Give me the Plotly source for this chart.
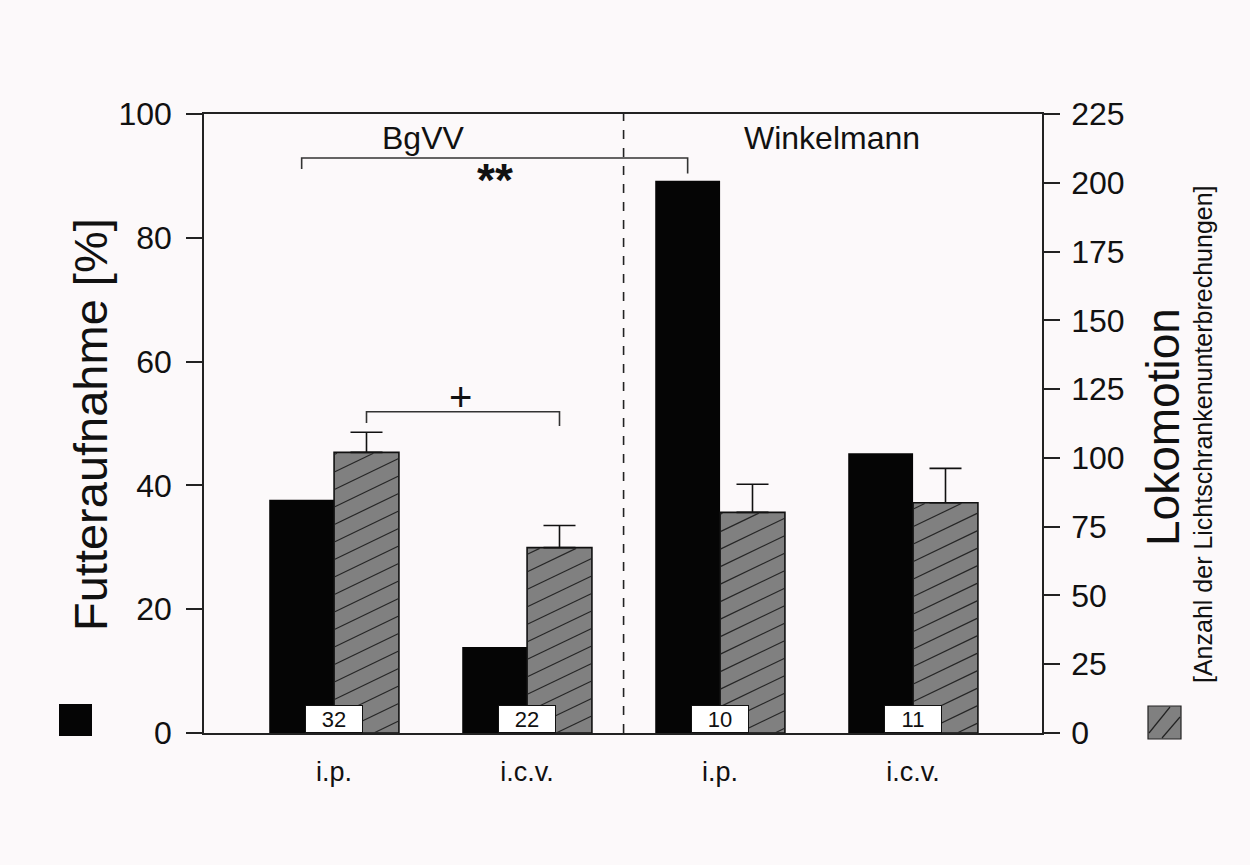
import math
import plotly.graph_objects as go

# ---- data -------------------------------------------------------------
groups = ["BgVV", "Winkelmann"]
routes = ["i.p.", "i.c.v.", "i.p.", "i.c.v."]
n_animals = ["32", "22", "10", "11"]
futteraufnahme = [37.7, 13.9, 89.2, 45.2]          # % (left axis, black bars)
lokomotion = [102.0, 67.4, 80.2, 83.7]             # counts (right axis, hatched bars)
lokomotion_err = [7.3, 8.0, 10.2, 12.5]

# ---- layout constants ---------------------------------------------------
W, H = 1250, 865
M_L, M_R, M_T, M_B = 204, 208, 114, 132
PLOT_W, PLOT_H = W - M_L - M_R, H - M_T - M_B
XR = [-0.674, 3.668]
YR = [0, 100]
Y2R = [0, 225]
BAR_W = 0.336
BG = "#fcf9fa"
FONT = "Liberation Sans, Arial, Helvetica, sans-serif"
GRAY = "#808080"

xpos = list(range(len(routes)))

PX_PER_X = PLOT_W / (XR[1] - XR[0])
PX_PER_Y2 = PLOT_H / (Y2R[1] - Y2R[0])


def hatch_segments(x0, x1, top, slope=0.48, gap=17.5, phase=6.0):
    """Diagonal hatch lines clipped to a bar rectangle (x in x-units, top in y2-units)."""
    X0 = (x0 - XR[0]) * PX_PER_X + 0.8
    X1 = (x1 - XR[0]) * PX_PER_X - 0.8
    T = top * PX_PER_Y2 - 0.8
    xs, ys = [], []
    cmin, cmax = 0 - slope * X1, T - slope * X0
    for k in range(math.ceil((cmin - phase) / gap), math.floor((cmax - phase) / gap) + 1):
        c = k * gap + phase
        xa = max(X0, (0.5 - c) / slope)
        xb = min(X1, (T - c) / slope)
        if xb - xa < 1.5:
            continue
        xs += [XR[0] + xa / PX_PER_X, XR[0] + xb / PX_PER_X, None]
        ys += [(c + slope * xa) / PX_PER_Y2, (c + slope * xb) / PX_PER_Y2, None]
    return xs, ys


fig = go.Figure()

# black bars: food intake
fig.add_trace(go.Bar(
    x=xpos, y=futteraufnahme, width=BAR_W, offset=-BAR_W,
    marker=dict(color="#050505", line=dict(width=0)),
    yaxis="y", showlegend=False, hoverinfo="skip",
))

# gray hatched bars: locomotion, with upward error whiskers
fig.add_trace(go.Bar(
    x=xpos, y=lokomotion, width=BAR_W, offset=0,
    marker=dict(color=GRAY, line=dict(width=1.6, color="#111")),
    error_y=dict(type="data", symmetric=False, array=lokomotion_err,
                 arrayminus=[0] * len(lokomotion), color="#111",
                 thickness=1.6, width=16),
    yaxis="y2", showlegend=False, hoverinfo="skip",
))

# hatching of the locomotion bars
hx, hy = [], []
for xi, v in zip(xpos, lokomotion):
    sx, sy = hatch_segments(xi, xi + BAR_W, v)
    hx += sx
    hy += sy
fig.add_trace(go.Scatter(
    x=hx, y=hy, mode="lines", yaxis="y2",
    line=dict(color="#262626", width=1.2),
    showlegend=False, hoverinfo="skip",
))

shapes = []
# separator between the two product groups
shapes.append(dict(type="line", xref="x", yref="y", x0=1.5, x1=1.5, y0=0, y1=100,
                   line=dict(color="#222", width=1.6, dash="dash")))

# significance brackets
def bracket(xa, xb, ytop, ya, yb):
    return dict(type="path", xref="x", yref="y",
                path=f"M {xa},{ya} L {xa},{ytop} L {xb},{ytop} L {xb},{yb}",
                line=dict(color="#333", width=1.6))

shapes.append(bracket(xpos[0] - BAR_W / 2, xpos[2] - BAR_W / 2, 92.9, 91.1, 90.4))
shapes.append(bracket(xpos[0] + BAR_W / 2, xpos[1] + BAR_W / 2, 51.9, 50.1, 49.6))

# legend squares beside the axes
def px2paper(px, py):
    return (px - M_L) / PLOT_W, (H - M_B - py) / PLOT_H

bx0, by0 = px2paper(59, 704)
bx1, by1 = px2paper(92, 736)
shapes.append(dict(type="rect", xref="paper", yref="paper", x0=bx0, x1=bx1, y0=by1, y1=by0,
                   fillcolor="#050505", line=dict(width=0)))
hx0, hy0 = px2paper(1148, 706)
hx1, hy1 = px2paper(1181, 739)
shapes.append(dict(type="rect", xref="paper", yref="paper", x0=hx0, x1=hx1, y0=hy1, y1=hy0,
                   fillcolor=GRAY, line=dict(width=1.2, color="#222")))
for (ax, ay), (bx, by) in [((1149, 733), (1170, 707)), ((1162, 738), (1180, 717))]:
    p0 = px2paper(ax, ay)
    p1 = px2paper(bx, by)
    shapes.append(dict(type="line", xref="paper", yref="paper",
                       x0=p0[0], y0=p0[1], x1=p1[0], y1=p1[1],
                       line=dict(color="#222", width=1.2)))

annotations = []
# number of animals in white boxes at the base of each group
for xi, n in zip(xpos, n_animals):
    annotations.append(dict(x=xi, y=0, xref="x", yref="y", text=n, showarrow=False,
                            xanchor="center", yanchor="bottom",
                            font=dict(family=FONT, size=22, color="#111"),
                            bgcolor="white", bordercolor="#111", borderwidth=1,
                            borderpad=1, width=54, height=24))

# group headers
annotations.append(dict(x=0.46, y=96.2, xref="x", yref="y", text=groups[0], showarrow=False,
                        font=dict(family=FONT, size=32, color="#111")))
annotations.append(dict(x=2.58, y=96.2, xref="x", yref="y", text=groups[1], showarrow=False,
                        font=dict(family=FONT, size=32, color="#111")))

# significance marks
annotations.append(dict(x=0.833, y=89.3, xref="x", yref="y", text="<b>**</b>", showarrow=False,
                        font=dict(family=FONT, size=46, color="#111")))
annotations.append(dict(x=0.654, y=54.3, xref="x", yref="y", text="+", showarrow=False,
                        font=dict(family=FONT, size=40, color="#111")))

# axis titles
tx, ty = px2paper(90, 425)
annotations.append(dict(x=tx, y=ty, xref="paper", yref="paper", text="Futteraufnahme [%]",
                        textangle=-90, showarrow=False, xanchor="center", yanchor="middle",
                        font=dict(family=FONT, size=47, color="#111")))
tx, ty = px2paper(1163, 427)
annotations.append(dict(x=tx, y=ty, xref="paper", yref="paper", text="Lokomotion",
                        textangle=-90, showarrow=False, xanchor="center", yanchor="middle",
                        font=dict(family=FONT, size=46, color="#111")))
tx, ty = px2paper(1203, 434)
annotations.append(dict(x=tx, y=ty, xref="paper", yref="paper",
                        text="[Anzahl der Lichtschrankenunterbrechungen]",
                        textangle=-90, showarrow=False, xanchor="center", yanchor="middle",
                        font=dict(family=FONT, size=25, color="#111")))

fig.update_layout(
    width=W, height=H,
    margin=dict(l=M_L, r=M_R, t=M_T, b=M_B),
    paper_bgcolor=BG, plot_bgcolor=BG,
    barmode="overlay",
    font=dict(family=FONT, color="#111"),
    xaxis=dict(range=XR, tickvals=xpos, ticktext=routes, showgrid=False, zeroline=False,
               showline=True, linecolor="#222", linewidth=1.6, mirror=True, ticks="",
               tickfont=dict(family=FONT, size=27, color="#111"), ticklabelstandoff=14),
    yaxis=dict(range=YR, tickvals=[0, 20, 40, 60, 80, 100], showgrid=False, zeroline=False,
               showline=True, linecolor="#222", linewidth=1.6, ticks="outside",
               ticklen=16, tickwidth=1.6, tickcolor="#222",
               tickfont=dict(family=FONT, size=32, color="#111"), ticklabelstandoff=8),
    yaxis2=dict(range=Y2R, tickvals=list(range(0, 226, 25)), overlaying="y", side="right",
                showgrid=False, zeroline=False, showline=True, linecolor="#222",
                linewidth=1.6, ticks="outside", ticklen=16, tickwidth=1.6, tickcolor="#222",
                tickfont=dict(family=FONT, size=32, color="#111"), ticklabelstandoff=5),
    shapes=shapes,
    annotations=annotations,
)

fig.write_html("out.html")
